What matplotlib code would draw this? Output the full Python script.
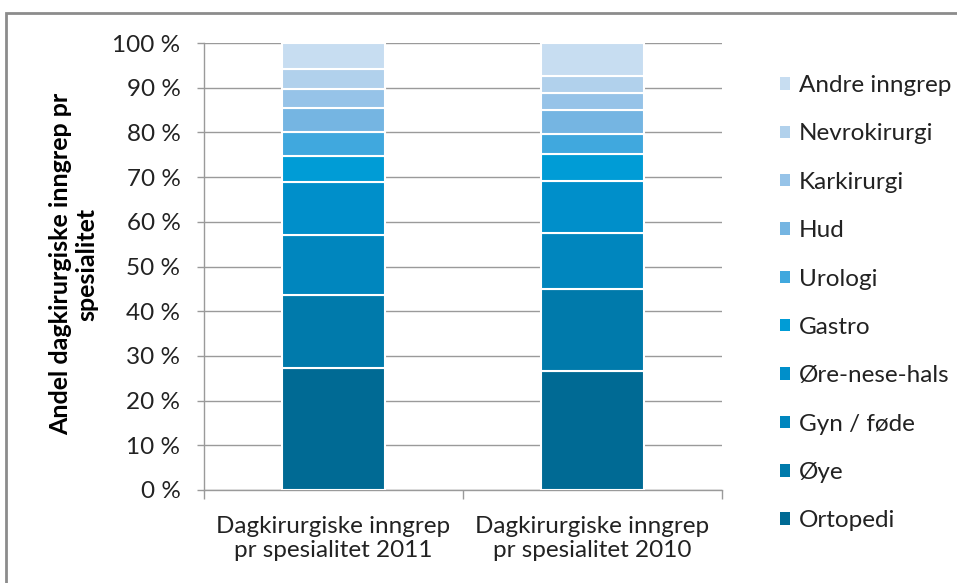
import matplotlib
matplotlib.use("Agg")
import matplotlib.pyplot as plt
from matplotlib.patches import Patch, Rectangle

plt.rcParams['font.family'] = ['Lato', 'DejaVu Sans']

categories = ["Dagkirurgiske inngrep\npr spesialitet 2011", "Dagkirurgiske inngrep\npr spesialitet 2010"]
series = ["Ortopedi", "Øye", "Gyn / føde", "Øre-nese-hals", "Gastro",
          "Urologi", "Hud", "Karkirurgi", "Nevrokirurgi", "Andre inngrep"]
values_2011 = [27.2, 16.4, 13.4, 11.8, 6.0, 5.4, 5.2, 4.3, 4.4, 5.9]
values_2010 = [26.7, 18.3, 12.6, 11.5, 6.0, 4.6, 5.2, 3.9, 3.9, 7.3]
colors = ["#006A94", "#007AAB", "#0086BE", "#008FCA", "#009CD6",
          "#40A8DE", "#75B5E2", "#96C3E8", "#B1D1EC", "#C7DDF1"]
yticks = [0, 10, 20, 30, 40, 50, 60, 70, 80, 90, 100]
ytick_labels = [f"{v} %" for v in yticks]

W, H = 957, 583
FS = 17.5
fig = plt.figure(figsize=(W/100, H/100), dpi=100)
fig.patch.set_facecolor("white")

# outer frame
fig.add_artist(Rectangle((6/W, -0.1), 1.2, (H-13)/H + 0.1, transform=fig.transFigure,
                         fill=False, edgecolor="#8c8c8c", linewidth=2))

ax = fig.add_axes([204/W, (H-490)/H, 518/W, 447/H])
x = [0, 1]
bottom = [0, 0]
handles = []
for name, v11, v10, c in zip(series, values_2011, values_2010, colors):
    vals = [v11, v10]
    ax.bar(x, vals, width=0.394, bottom=bottom, color=c, edgecolor="white",
           linewidth=1.5, zorder=3)
    bottom = [b + v for b, v in zip(bottom, vals)]
    handles.append(Patch(facecolor=c, edgecolor="none", label=name))

ax.set_xlim(-0.5, 1.5)
ax.set_ylim(0, 100)
ax.set_yticks(yticks)
ax.set_yticklabels(ytick_labels, fontsize=FS, color="#222222")
ax.yaxis.grid(True, color="#9a9a9a", linewidth=1)
ax.set_axisbelow(True)
ax.set_xticks([-0.5, 0.5, 1.5])
ax.set_xticklabels([])
ax.set_xticks(x, minor=True)
ax.set_xticklabels(categories, minor=True, fontsize=FS, color="#222222", linespacing=1.13)
ax.tick_params(axis="x", which="minor", length=0, pad=19)
ax.tick_params(axis="x", which="major", length=6.5, color="#9a9a9a", width=1)
ax.tick_params(axis="y", length=5, color="#9a9a9a", width=1, pad=12)
for s in ["top", "right"]:
    ax.spines[s].set_visible(False)
for s in ["left", "bottom"]:
    ax.spines[s].set_color("#9a9a9a")
    ax.spines[s].set_linewidth(1)

fig.text(74/W, (H-264)/H, "Andel dagkirurgiske inngrep pr\nspesialitet", rotation=90,
         ha="center", va="center", fontsize=18, fontweight="bold", color="#000000",
         linespacing=1.15)

leg = fig.legend(handles=handles[::-1], loc="upper left",
                 bbox_to_anchor=(768/W, (H-63)/H), frameon=False,
                 fontsize=FS, labelspacing=1.125, handlelength=0.42, handleheight=0.42,
                 handletextpad=0.35, borderpad=0)
for t in leg.get_texts():
    t.set_color("#222222")

fig.savefig("out.png", dpi=100)
